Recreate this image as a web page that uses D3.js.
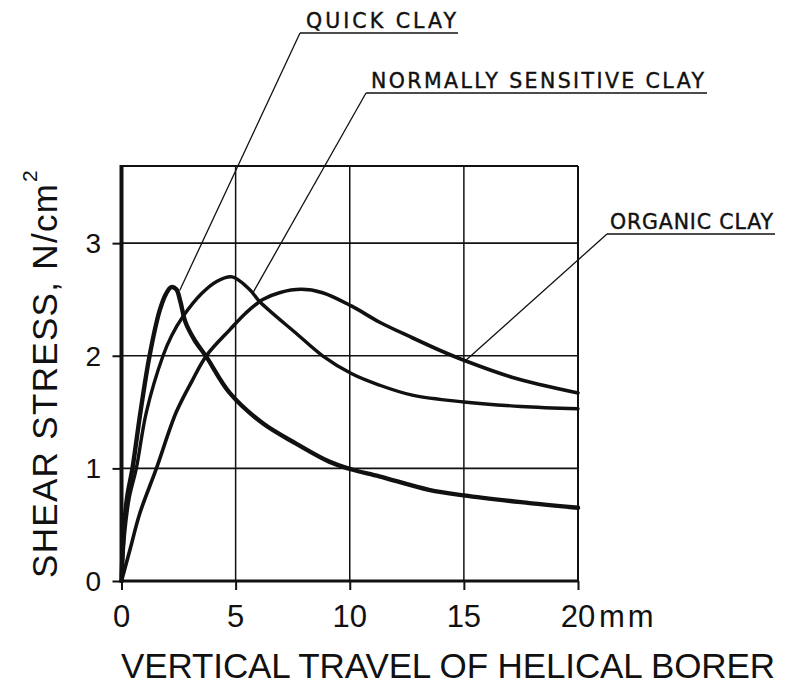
<!DOCTYPE html>
<html>
<head>
<meta charset="utf-8">
<script src="https://cdn.jsdelivr.net/npm/d3@7"></script>
<style>
  html, body { margin: 0; padding: 0; background: #fff; }
  svg { display: block; }
  text { font-family: "Liberation Sans", Arial, sans-serif; fill: #111; }
  .lbl { font-family: "DejaVu Sans", "Liberation Sans", sans-serif; stroke: #111; stroke-width: 0.4; }
</style>
</head>
<body>
<svg id="chart" width="793" height="690"></svg>
<script>
// ---- data ----
const xTicks = [0, 5, 10, 15, 20];
const yTicks = [0, 1, 2, 3];
const xTickLabels = ["0", "5", "10", "15", "20"];
const yTickLabels = ["0", "1", "2", "3"];
const xUnit = "mm";
const xTitle = "VERTICAL TRAVEL OF HELICAL BORER";
const yTitle = "SHEAR STRESS, N/cm";
const yTitleSup = "2";

const seriesNames = ["QUICK CLAY", "NORMALLY SENSITIVE CLAY", "ORGANIC CLAY"];

const quickX = [0, 0.1, 0.25, 0.48, 0.83, 1.23, 1.67, 1.95, 2.18, 2.4, 2.58, 2.8, 3.2, 3.72, 4.74, 6.19, 7.65, 9.1, 10.09, 11.29, 13.47, 15, 17.5, 20];
const quickY = [0, 0.45, 0.75, 1.0, 1.5, 2.0, 2.4, 2.55, 2.61, 2.59, 2.48, 2.3, 2.14, 1.99, 1.67, 1.40, 1.22, 1.06, 0.99, 0.93, 0.81, 0.76, 0.70, 0.65];

const normalX = [0, 0.15, 0.35, 0.65, 1.09, 1.82, 2.2, 2.7, 3.5, 4.17, 4.85, 5.6, 6.06, 7.65, 8.81, 10.09, 11.29, 12.74, 15, 17.5, 20];
const normalY = [0, 0.45, 0.75, 1.0, 1.5, 2.0, 2.18, 2.35, 2.55, 2.66, 2.70, 2.59, 2.48, 2.2, 2.0, 1.84, 1.74, 1.65, 1.59, 1.55, 1.53];

const organicX = [0, 0.4, 0.8, 1.53, 2.4, 3.1, 3.72, 4.74, 5.45, 6.19, 6.92, 7.87, 8.81, 10.09, 11.29, 12.74, 14.04, 15, 17.1, 20];
const organicY = [0, 0.3, 0.6, 1.0, 1.5, 1.78, 2.0, 2.23, 2.38, 2.50, 2.56, 2.59, 2.56, 2.44, 2.30, 2.16, 2.04, 1.96, 1.81, 1.67];

// leader anchor points on curves (data units)
const leaderX = [2.55, 5.76, 15.09];
const leaderY = [2.58, 2.56, 1.96];

// ---- layout ----
const svg = d3.select("#chart");
const x = d3.scaleLinear().domain([0, 20]).range([121.5, 578]);
const y = d3.scaleLinear().domain([0, 3.685]).range([581, 166]);
const ink = "#111";

// grid
const g = svg.append("g");
g.selectAll(".vg").data([5, 10, 15]).enter().append("line")
  .attr("x1", d => x(d)).attr("x2", d => x(d))
  .attr("y1", y(0)).attr("y2", y(3.685))
  .attr("stroke", ink).attr("stroke-width", 1.5);
g.selectAll(".hg").data([1, 2, 3]).enter().append("line")
  .attr("x1", x(0)).attr("x2", x(20))
  .attr("y1", d => y(d)).attr("y2", d => y(d))
  .attr("stroke", ink).attr("stroke-width", 1.6);

// frame: top & right
g.append("line").attr("x1", x(0)).attr("x2", x(20)).attr("y1", y(3.685)).attr("y2", y(3.685))
  .attr("stroke", ink).attr("stroke-width", 2);
g.append("line").attr("x1", x(20)).attr("x2", x(20)).attr("y1", y(0)).attr("y2", y(3.685))
  .attr("stroke", ink).attr("stroke-width", 2);

// axes
const xAxis = d3.axisBottom(x).tickValues(xTicks).tickSize(9).tickFormat("");
const yAxis = d3.axisLeft(y).tickValues(yTicks).tickSize(9).tickFormat("");
const xa = svg.append("g").attr("transform", `translate(0,${y(0)})`).call(xAxis);
const ya = svg.append("g").attr("transform", `translate(${x(0)},0)`).call(yAxis);
xa.select(".domain").remove();
ya.select(".domain").remove();
xa.selectAll(".tick line").attr("stroke", ink).attr("stroke-width", 2);
ya.selectAll(".tick line").attr("stroke", ink).attr("stroke-width", 2);
svg.append("line").attr("x1", x(0) - 1.5).attr("x2", x(20) + 1).attr("y1", y(0)).attr("y2", y(0))
  .attr("stroke", ink).attr("stroke-width", 3.2);
svg.append("line").attr("x1", x(0)).attr("x2", x(0)).attr("y1", y(0) + 1.5).attr("y2", y(3.685) - 1)
  .attr("stroke", ink).attr("stroke-width", 4);

// tick labels
svg.selectAll(".xl").data(xTicks).enter().append("text")
  .attr("x", d => x(d)).attr("y", 627)
  .attr("text-anchor", "middle")
  .attr("font-size", 31)
  .text((d, i) => xTickLabels[i]);
svg.append("text").attr("x", x(20) + 21).attr("y", 627)
  .attr("font-size", 31).attr("letter-spacing", 3).text(xUnit);
svg.selectAll(".yl").data(yTicks).enter().append("text")
  .attr("x", 101).attr("y", d => y(d) + 10)
  .attr("text-anchor", "end")
  .attr("font-size", 28)
  .text((d, i) => yTickLabels[i]);

// axis titles
svg.append("text").attr("x", 121).attr("y", 678)
  .attr("font-size", 35).attr("textLength", 654).attr("lengthAdjust", "spacing")
  .text(xTitle);
svg.append("text").attr("transform", "translate(57,578) rotate(-90)")
  .attr("font-size", 35).attr("textLength", 394).attr("lengthAdjust", "spacing")
  .text(yTitle);
svg.append("text").attr("transform", "translate(37,182) rotate(-90)")
  .attr("font-size", 21).text(yTitleSup);

// curves
const line = d3.line().x(d => x(d[0])).y(d => y(d[1])).curve(d3.curveCatmullRom.alpha(0.5));
const series = [
  { xs: quickX, ys: quickY, w: 4.4 },
  { xs: normalX, ys: normalY, w: 3.4 },
  { xs: organicX, ys: organicY, w: 3.6 }
];
svg.selectAll(".curve").data(series).enter().append("path")
  .attr("d", s => line(s.xs.map((v, i) => [v, s.ys[i]])))
  .attr("fill", "none").attr("stroke", ink)
  .attr("stroke-width", s => s.w)
  .attr("stroke-linejoin", "round").attr("stroke-linecap", "round");

// labels with underline and leader
const labelLayout = [
  { tx: 306, ty: 28, tl: 150, ux1: 300, ux2: 458, uy: 33 },
  { tx: 371, ty: 88, tl: 333, ux1: 366, ux2: 707, uy: 93 },
  { tx: 610, ty: 229, tl: 163, ux1: 607, ux2: 775, uy: 234 }
];
seriesNames.forEach((name, i) => {
  const L = labelLayout[i];
  svg.append("text").attr("class", "lbl").attr("x", L.tx).attr("y", L.ty)
    .attr("font-size", 20.5).attr("textLength", L.tl).attr("lengthAdjust", "spacing")
    .text(name);
  svg.append("line").attr("x1", L.ux1).attr("x2", L.ux2).attr("y1", L.uy).attr("y2", L.uy)
    .attr("stroke", ink).attr("stroke-width", 1.5);
  svg.append("line").attr("x1", L.ux1).attr("y1", L.uy)
    .attr("x2", x(leaderX[i])).attr("y2", y(leaderY[i]))
    .attr("stroke", ink).attr("stroke-width", 1.3);
});
</script>
</body>
</html>
